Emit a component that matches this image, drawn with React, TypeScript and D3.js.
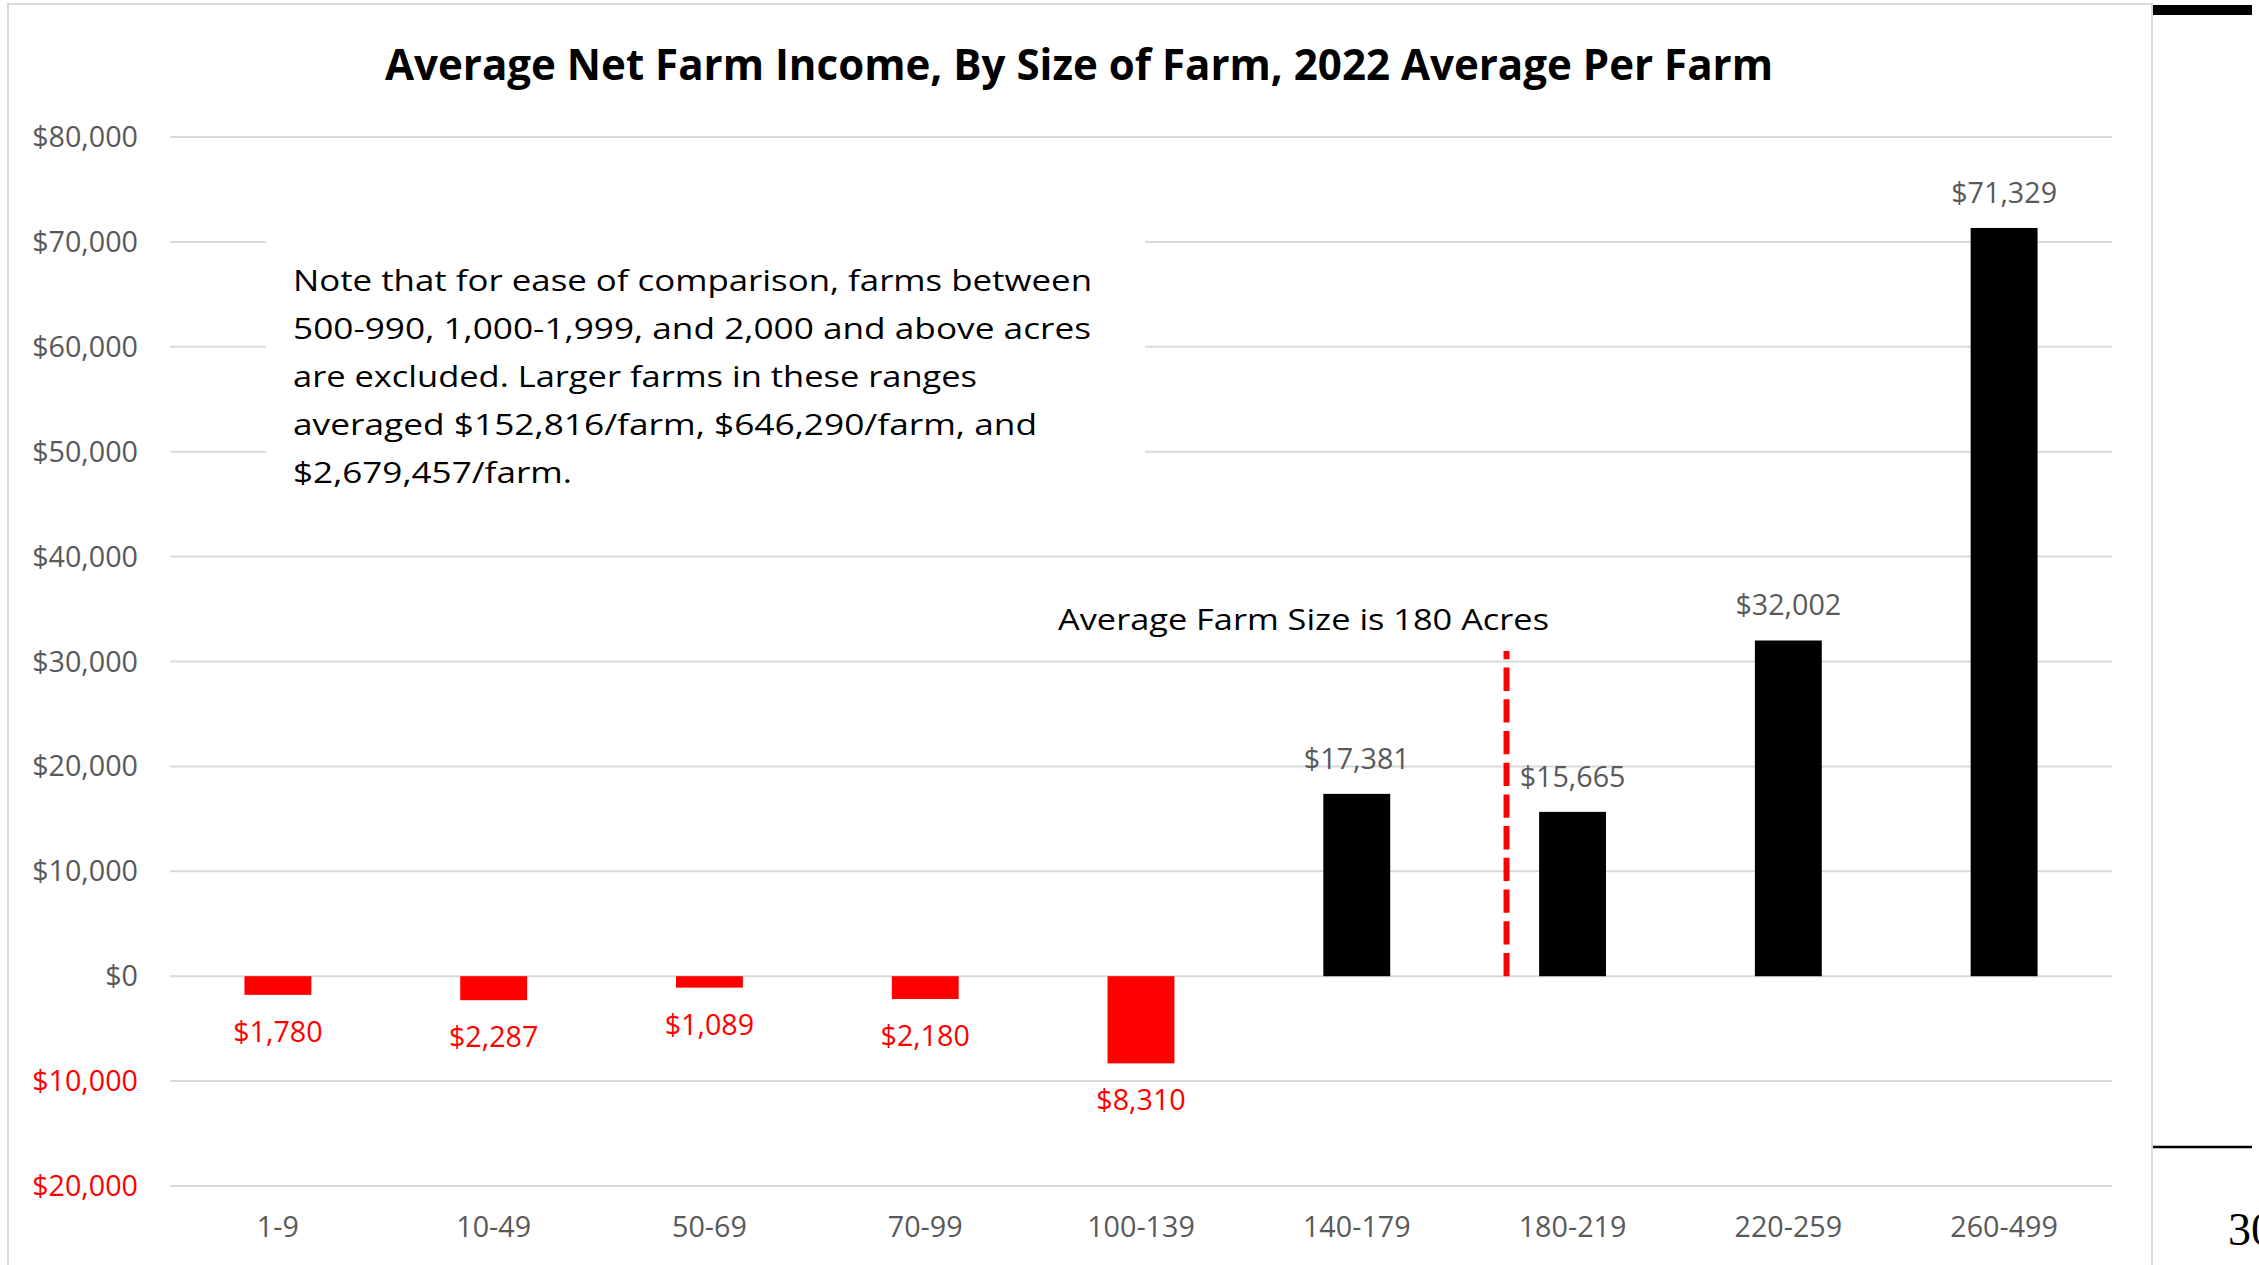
import React from "react";
import * as d3 from "d3";

const categories = ["1-9", "10-49", "50-69", "70-99", "100-139", "140-179", "180-219", "220-259", "260-499"];
const netIncome = [-1780, -2287, -1089, -2180, -8310, 17381, 15665, 32002, 71329];
const yTicks = [80000, 70000, 60000, 50000, 40000, 30000, 20000, 10000, 0, -10000, -20000];
const titleText = "Average Net Farm Income, By Size of Farm, 2022 Average Per Farm";
const noteLines = [
  "Note that for ease of comparison, farms between",
  "500-990, 1,000-1,999, and 2,000 and above acres",
  "are excluded. Larger farms in these ranges",
  "averaged $152,816/farm, $646,290/farm, and",
  "$2,679,457/farm.",
];
const avgCategory = "180-219";
const avgLineTop = 31000;
const avgLabel = "Average Farm Size is 180 Acres";
const pageNumber = "30";

const noteLineWidths = [799, 798, 684, 744, 279];

const W = 2259;
const H = 1265;
const RED = "#FF0000";
const GRAY = "#595959";
const GRID = "#D9D9D9";
const FONT = "'Open Sans', sans-serif";

export default function App() {
  const x = d3.scaleBand<string>().domain(categories).range([170, 2112]).paddingInner(0.69).paddingOuter(0.345);
  const xStep = d3.scaleBand<string>().domain(categories).range([170, 2112]).padding(0);
  const y = d3.scaleLinear().domain([-20000, 80000]).range([1186, 137]);
  const fmt = d3.format(",");
  const money = (v: number) => "$" + fmt(Math.abs(v));
  const bw = x.bandwidth();
  const avgX = (xStep(avgCategory) as number) + xStep.step() * 0.194;

  return (
    <svg width={W} height={H} style={{ position: "fixed", left: 0, top: 0, background: "#fff" }}>
      <rect x={0} y={0} width={W} height={H} fill="#fff" />
      <rect x={8} y={4} width={2144} height={1300} fill="#fff" stroke={GRID} strokeWidth={2} />

      {/* title */}
      <text x={385} y={80} fontFamily={FONT} fontWeight={700} fontSize={43} fill="#000" textLength={1388} lengthAdjust="spacingAndGlyphs">
        {titleText}
      </text>

      {/* gridlines */}
      {yTicks.map((t) => (
        <line key={"g" + t} x1={170} x2={2112} y1={y(t)} y2={y(t)} stroke={GRID} strokeWidth={2} />
      ))}

      {/* y tick labels */}
      {yTicks.map((t) => (
        <text key={"t" + t} x={138} y={y(t) + 10} textAnchor="end" fontFamily={FONT} fontSize={28.7} fill={t < 0 ? RED : GRAY}>
          {money(t)}
        </text>
      ))}

      {/* note box */}
      <rect x={266} y={200} width={879} height={305} fill="#fff" />
      {noteLines.map((l, i) => (
        <text key={"n" + i} x={293} y={291 + i * 48} fontFamily={FONT} fontSize={30} fill="#000" textLength={noteLineWidths[i]} lengthAdjust="spacingAndGlyphs">
          {l}
        </text>
      ))}

      {/* bars */}
      {categories.map((c, i) => {
        const v = netIncome[i];
        const x0 = x(c) as number;
        return (
          <rect key={"b" + c} x={x0} y={Math.min(y(v), y(0))} width={bw} height={Math.abs(y(v) - y(0))} fill={v < 0 ? RED : "#000"} />
        );
      })}

      {/* data labels */}
      {categories.map((c, i) => {
        const v = netIncome[i];
        const cx = (x(c) as number) + bw / 2;
        return (
          <text key={"l" + c} x={cx} y={v < 0 ? y(v) + 47 : y(v) - 25} textAnchor="middle" fontFamily={FONT} fontSize={28.7} fill={v < 0 ? RED : GRAY}>
            {money(v)}
          </text>
        );
      })}

      {/* average line */}
      <line x1={avgX} x2={avgX} y1={y(0)} y2={y(avgLineTop)} stroke={RED} strokeWidth={6} strokeDasharray="23.3 8.4" />
      <text x={1058} y={630} fontFamily={FONT} fontSize={30} fill="#000" textLength={491} lengthAdjust="spacingAndGlyphs">
        {avgLabel}
      </text>

      {/* x labels */}
      {categories.map((c) => (
        <text key={"x" + c} x={(x(c) as number) + bw / 2} y={1237} textAnchor="middle" fontFamily={FONT} fontSize={28.7} fill={GRAY}>
          {c}
        </text>
      ))}

      {/* right-side slide fragments */}
      <rect x={2153} y={5} width={99} height={10} fill="#000" />
      <line x1={2153} x2={2252} y1={1147} y2={1147} stroke="#000" strokeWidth={2.5} />
      <text x={2228} y={1245} fontFamily="'Liberation Serif', serif" fontSize={46} fill="#000">
        {pageNumber}
      </text>
    </svg>
  );
}
